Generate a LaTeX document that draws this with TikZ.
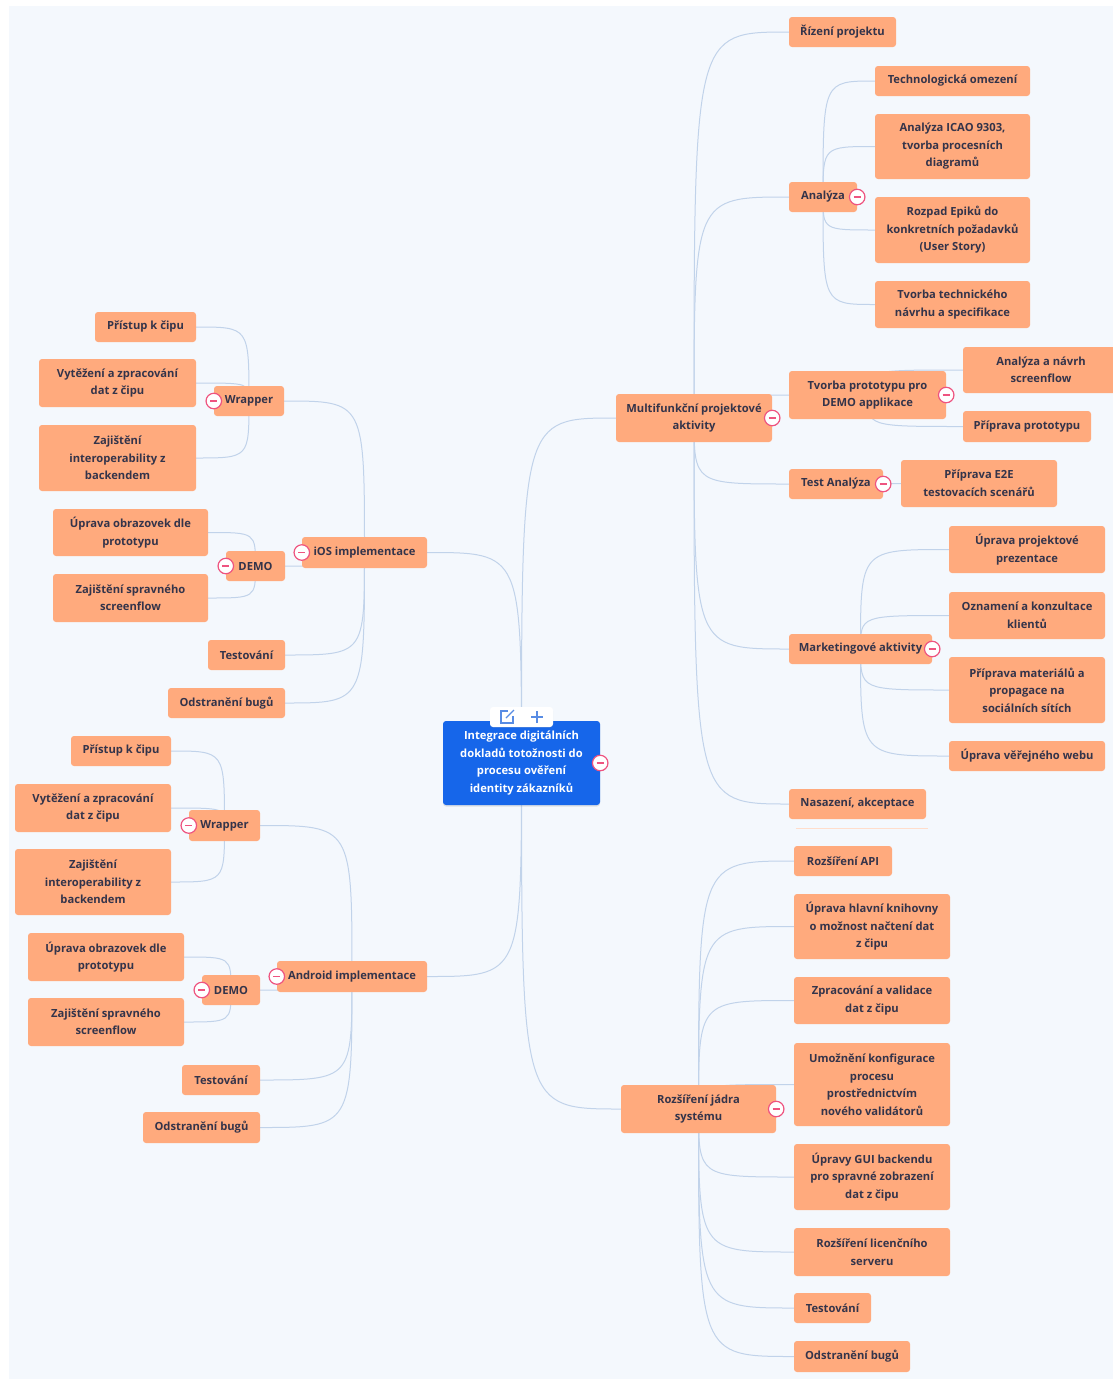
\documentclass[tikz,border=0pt]{standalone}
\usepackage{fontspec}
\setmainfont{Open Sans}
\usepackage{tikz}
\usetikzlibrary{backgrounds,shadows}
\definecolor{mypaper}{RGB}{244,248,253}
\definecolor{mynode}{RGB}{255,170,125}
\definecolor{myroot}{RGB}{22,102,234}
\definecolor{myink}{RGB}{52,52,74}
\definecolor{mylink}{RGB}{193,211,234}
\definecolor{myfold}{RGB}{238,84,128}
\definecolor{myicon}{RGB}{88,140,228}

\tikzset{
  topic/.style={fill=mynode, rounded corners=3pt, text=myink, align=center,
    inner sep=0pt, minimum height=30pt,
    font=\fontsize{11.2}{17.5}\selectfont\bfseries},
  link/.style={draw=mylink, line width=1pt},
  fold/.style={circle, draw=myfold, fill=white, line width=1.2pt,
    minimum size=15.5pt, inner sep=0pt,
    path picture={\draw[myfold, line width=1.4pt]
      ([xshift=-3.5pt]path picture bounding box.center) --
      ([xshift=3.5pt]path picture bounding box.center);}},
}

\begin{document}
\begin{tikzpicture}[x=1pt, y=-1pt]
  \useasboundingbox (0,0) rectangle (1113,1379);

  % -- root with its little toolbar --
  \node[topic, fill=myroot, text=white, minimum width=157pt, minimum height=84pt,
        drop shadow={opacity=0.2, shadow xshift=0pt, shadow yshift=-1.5pt}]
    (root) at (521.5,763)
    {Integrace digitálních\\dokladů totožnosti do\\procesu ověření\\identity zákazníků};
  \node[fill=white, rounded corners=3pt, minimum width=63pt, minimum height=20pt,
        drop shadow={opacity=0.12, shadow xshift=0pt, shadow yshift=-1pt}]
    (tools) at (521.5,717) {};
  \begin{scope}[shift={(tools.center)}, myicon, line width=1.2pt]
    \draw (-13.5,-6) -- (-20.5,-6) -- (-20.5,6) -- (-8.5,6) -- (-8.5,-1);
    \draw (-15.5,1) -- (-7.5,-7);
    \draw (9.5,0) -- (21.5,0);
    \draw (15.5,-6) -- (15.5,6);
  \end{scope}

  % -- right, upper half --
  \node[topic, minimum width=156pt, minimum height=48pt] (multi) at (694,418)
    {Multifunkční projektové\\aktivity};
  \node[topic, minimum width=107pt] (rizeni) at (842.5,32) {Řízení projektu};
  \node[topic, minimum width=68pt] (analyza) at (823,197) {Analýza};
  \node[topic, minimum width=155pt] (tech) at (952.5,81) {Technologická omezení};
  \node[topic, minimum width=155pt, minimum height=65pt] (icao) at (952.5,146.5)
    {Analýza ICAO 9303,\\tvorba procesních\\diagramů};
  \node[topic, minimum width=155pt, minimum height=66pt] (rozpad) at (952.5,230)
    {Rozpad Epiků do\\konkretních požadavků\\(User Story)};
  \node[topic, minimum width=155pt, minimum height=47pt] (navrhTech) at (952.5,304.5)
    {Tvorba technického\\návrhu a specifikace};
  \node[topic, minimum width=157pt, minimum height=48pt] (proto) at (867.5,395)
    {Tvorba prototypu pro\\DEMO applikace};
  \node[topic, minimum width=156pt, minimum height=46pt] (screen) at (1041,370)
    {Analýza a návrh\\screenflow};
  \node[topic, minimum width=128pt, minimum height=31pt] (pripProto) at (1027,426.5)
    {Příprava prototypu};
  \node[topic, minimum width=94pt] (testAn) at (836,484) {Test Analýza};
  \node[topic, minimum width=156pt, minimum height=47pt] (e2e) at (979,483.5)
    {Příprava E2E\\testovacích scenářů};
  \node[topic, minimum width=143pt] (market) at (860.5,649) {Marketingové aktivity};
  \node[topic, minimum width=156pt, minimum height=47pt] (prezent) at (1027,549.5)
    {Úprava projektové\\prezentace};
  \node[topic, minimum width=156pt, minimum height=47pt] (oznam) at (1027,615.5)
    {Oznamení a konzultace\\klientů};
  \node[topic, minimum width=156pt, minimum height=66pt] (material) at (1027,690)
    {Příprava materiálů a\\propagace na\\sociálních sítích};
  \node[topic, minimum width=156pt] (web) at (1027,756) {Úprava věřejného webu};
  \node[topic, minimum width=137pt] (nasazeni) at (857.5,804) {Nasazení, akceptace};
  \draw[mynode!40, line width=1pt] ([xshift=7pt,yshift=-9pt]nasazeni.south west)
    -- ([xshift=2pt,yshift=-9pt]nasazeni.south east);

  % -- right, lower half --
  \node[topic, minimum width=155pt, minimum height=48pt] (jadro) at (698.5,1109)
    {Rozšíření jádra\\systému};
  \node[topic, minimum width=98pt] (api) at (843,861) {Rozšíření API};
  \node[topic, minimum width=156pt, minimum height=65pt] (knihovna) at (872,926.5)
    {Úprava hlavní knihovny\\o možnost načtení dat\\z čipu};
  \node[topic, minimum width=156pt, minimum height=47pt] (validace) at (872,1000.5)
    {Zpracování a validace\\dat z čipu};
  \node[topic, minimum width=156pt, minimum height=83pt] (konfig) at (872,1084.5)
    {Umožnění konfigurace\\procesu\\prostřednictvím\\nového validátorů};
  \node[topic, minimum width=156pt, minimum height=66pt] (gui) at (872,1177)
    {Úpravy GUI backendu\\pro spravné zobrazení\\dat z čipu};
  \node[topic, minimum width=156pt, minimum height=48pt] (licence) at (872,1252)
    {Rozšíření licenčního\\serveru};
  \node[topic, minimum width=77pt] (jTest) at (832.5,1308) {Testování};
  \node[topic, minimum width=116pt, minimum height=31pt] (jBugy) at (852,1356.5)
    {Odstranění bugů};

  % -- left, iOS --
  \node[topic, minimum width=125pt, minimum height=31pt] (ios) at (364.5,552.5)
    {iOS implementace};
  \node[topic, minimum width=70pt] (iosWrap) at (249,401) {Wrapper};
  \node[topic, minimum width=101pt] (iosCip) at (145.5,327) {Přístup k čipu};
  \node[topic, minimum width=157pt, minimum height=48pt] (iosVytez) at (117.5,383)
    {Vytěžení a zpracování\\dat z čipu};
  \node[topic, minimum width=157pt, minimum height=66pt] (iosInter) at (117.5,458)
    {Zajištění\\interoperability z\\backendem};
  \node[topic, minimum width=59pt] (iosDemo) at (255.5,566) {DEMO};
  \node[topic, minimum width=155pt, minimum height=47pt] (iosObraz) at (130.5,532.5)
    {Úprava obrazovek dle\\prototypu};
  \node[topic, minimum width=155pt, minimum height=48pt] (iosFlow) at (130.5,598)
    {Zajištění spravného\\screenflow};
  \node[topic, minimum width=77pt] (iosTest) at (246.5,655) {Testování};
  \node[topic, minimum width=117pt] (iosBugy) at (226.5,703) {Odstranění bugů};

  % -- left, Android --
  \node[topic, minimum width=150pt, minimum height=31pt] (andr) at (352,976.5)
    {Android implementace};
  \node[topic, minimum width=71pt, minimum height=31pt] (anWrap) at (224.5,825.5) {Wrapper};
  \node[topic, minimum width=100pt] (anCip) at (121,751) {Přístup k čipu};
  \node[topic, minimum width=156pt, minimum height=48pt] (anVytez) at (93,808)
    {Vytěžení a zpracování\\dat z čipu};
  \node[topic, minimum width=156pt, minimum height=66pt] (anInter) at (93,882)
    {Zajištění\\interoperability z\\backendem};
  \node[topic, minimum width=58pt] (anDemo) at (231,990) {DEMO};
  \node[topic, minimum width=156pt, minimum height=48pt] (anObraz) at (106,957)
    {Úprava obrazovek dle\\prototypu};
  \node[topic, minimum width=156pt, minimum height=48pt] (anFlow) at (106,1022)
    {Zajištění spravného\\screenflow};
  \node[topic, minimum width=78pt] (anTest) at (221,1080) {Testování};
  \node[topic, minimum width=117pt, minimum height=31pt] (anBugy) at (201.5,1127.5)
    {Odstranění bugů};

  % -- collapse buttons --
  \foreach \n in {root, multi, analyza, proto, testAn, market, jadro}
    \node[fold] (\n-fold) at (\n.east) {};
  \foreach \n in {ios, iosWrap, iosDemo, andr, anWrap, anDemo}
    \node[fold] (\n-fold) at (\n.west) {};

  % -- paper and links go behind everything --
  \begin{scope}[on background layer]
    \fill[white] (0,0) rectangle (1113,1379);
    \fill[mypaper] (9,6) rectangle (1113,1379);
    \foreach \c in {multi, jadro}
      \draw[link] (root.center) .. controls (root.center |- \c.west) .. (\c.west);
    \foreach \c in {ios, andr}
      \draw[link] (root.center) .. controls (root.center |- \c.east) .. (\c.east);
    \foreach \p/\c in {multi/rizeni, multi/analyza, multi/proto, multi/testAn,
        multi/market, multi/nasazeni, analyza/tech, analyza/icao, analyza/rozpad,
        analyza/navrhTech, proto/screen, proto/pripProto, testAn/e2e,
        market/prezent, market/oznam, market/material, market/web,
        jadro/api, jadro/knihovna, jadro/validace, jadro/konfig, jadro/gui,
        jadro/licence, jadro/jTest, jadro/jBugy}
      \draw[link] (\p.center) .. controls (\p.center |- \c.west)
        and (\p.center |- \c.west) .. (\c.west);
    \foreach \p/\c in {ios/iosWrap, ios/iosDemo, ios/iosTest, ios/iosBugy,
        iosWrap/iosCip, iosWrap/iosVytez, iosWrap/iosInter,
        iosDemo/iosObraz, iosDemo/iosFlow,
        andr/anWrap, andr/anDemo, andr/anTest, andr/anBugy,
        anWrap/anCip, anWrap/anVytez, anWrap/anInter,
        anDemo/anObraz, anDemo/anFlow}
      \draw[link] (\p.center) .. controls (\p.center |- \c.east)
        and (\p.center |- \c.east) .. (\c.east);
  \end{scope}
\end{tikzpicture}
\end{document}
